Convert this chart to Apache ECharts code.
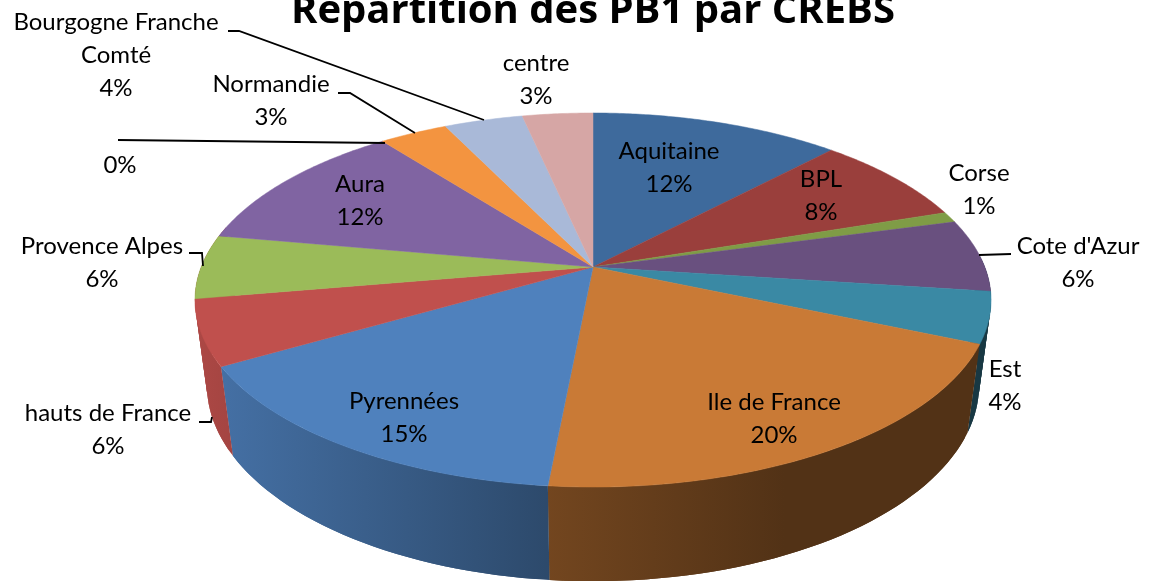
<!DOCTYPE html>
<html>
<head>
<meta charset="utf-8">
<title>Répartition des PB1 par CREBS</title>
<script src="https://cdn.jsdelivr.net/npm/echarts@6/dist/echarts.min.js"></script>
<style>
  html, body { margin: 0; padding: 0; background: #fff; }
  #main { width: 1149px; height: 581px; }
</style>
</head>
<body>
<div id="main"></div>
<script>
// data, clockwise from 12 o'clock
var categories = ['Aquitaine', 'BPL', 'Corse', "Cote d'Azur", 'Est', 'Ile de France', 'Pyrennées',
    'hauts de France', 'Provence Alpes', 'Aura', '', 'Normandie', 'Bourgogne Franche\nComté', 'centre'];
var values = [12.05, 7.85, 0.93, 6.3, 4.4, 20.05, 15.15, 5.65, 5.55, 11.7, 0, 3.3, 3.8, 3.4];

var colors = ['#3e6a9c', '#9a3f3c', '#7f9c46', '#69507f', '#3a89a4', '#c97a36', '#4f81bd',
    '#c0504d', '#9bbb59', '#8064a2', '#4bacc6', '#f39440', '#a9b9d8', '#d6a6a5'];

// centre of each label block
var labelX = [669, 821, 979, 1078, 1005, 774, 404, 108, 102, 360, 120, 271, 116, 536];
var labelY = [168, 196, 190, 263, 386, 419, 418, 430, 263, 201, 165, 101, 55, 80];

// leader lines, only the labels sitting outside the pie have one
var leaders = {
    3: [[979, 255], [1011, 254]],
    7: [[199, 422], [211, 422], [212, 417]],
    8: [[189, 253], [202, 253], [203, 266]],
    10: [[118, 140], [385, 143]],
    11: [[338, 93], [350, 93], [415, 133]],
    12: [[228, 31], [239, 31], [484, 120]]
};

// perspective of the tilted disc
var cx = 593, cy = 267, ax = 391.8, ay = 181.2, tilt = 0.1765;
var depth = 87, depthW = 0.03;

// walls drawn only for the front slices, the outer ones run on to the silhouette
var wallFrom = { 4: -0.2, 5: 0, 6: 0, 7: 0 };
var wallTo = { 4: 0, 5: 0, 6: 0, 7: 0.4 };

var total = values.reduce(function (a, b) { return a + b; }, 0);
var starts = [];
values.reduce(function (acc, v, i) { starts[i] = acc; return acc + v; }, 0);

function project(angle, level) {
    var u = Math.sin(angle), v = -Math.cos(angle);
    var w = 1 - tilt * v + depthW * level;
    return [cx + ax * u / w, cy + (ay * v + depth * level) / w];
}

function arcPoints(i, level, extra0, extra1, step) {
    var a0 = starts[i] / total * Math.PI * 2 + (extra0 || 0);
    var a1 = (starts[i] + values[i]) / total * Math.PI * 2 + (extra1 || 0);
    var n = Math.max(2, Math.ceil((a1 - a0) / (step || 0.01)));
    var pts = [];
    for (var k = 0; k <= n; k++) {
        pts.push(project(a0 + (a1 - a0) * k / n, level));
    }
    return pts;
}

function shade(hex, f) {
    var c = echarts.color.parse(hex);
    return 'rgb(' + Math.round(c[0] * f) + ',' + Math.round(c[1] * f) + ',' + Math.round(c[2] * f) + ')';
}

// side wall lighting, left to right over the whole pie
function sideFill(hex) {
    return new echarts.graphic.LinearGradient(195, 0, 991, 0, [
        { offset: 0, color: shade(hex, 0.9) },
        { offset: 0.04, color: shade(hex, 0.86) },
        { offset: 0.44, color: shade(hex, 0.57) },
        { offset: 0.74, color: shade(hex, 0.41) },
        { offset: 1, color: shade(hex, 0.41) }
    ], true);
}

// a wall is a strip of overlapping quads, so it also fills out to the tangent at the silhouette
function renderSide(params) {
    var i = params.dataIndex;
    if (wallFrom[i] === undefined) return null;
    var upper = arcPoints(i, 0, wallFrom[i], wallTo[i], 0.03);
    var lower = arcPoints(i, 1, wallFrom[i], wallTo[i], 0.03);
    var fill = sideFill(colors[i]);
    var children = [];
    for (var k = 0; k < upper.length - 1; k++) {
        var next = Math.min(k + 2, upper.length - 1);
        children.push({
            type: 'polygon',
            shape: { points: [upper[k], upper[k + 1], upper[next], lower[next], lower[k + 1], lower[k]] },
            style: { fill: fill }
        });
    }
    return { type: 'group', children: children };
}

function renderTop(params) {
    var i = params.dataIndex;
    if (!values[i]) return null;
    var pts = [[cx, cy]].concat(arcPoints(i, 0));
    return {
        type: 'polygon',
        shape: { points: pts },
        style: { fill: colors[i], stroke: colors[i], lineWidth: 0.5 }
    };
}

function renderLabel(params) {
    var i = params.dataIndex;
    var pct = Math.round(values[i] / total * 100) + '%';
    var children = [{
        type: 'text',
        style: {
            text: categories[i] ? categories[i] + '\n' + pct : pct,
            x: labelX[i],
            y: labelY[i],
            align: 'center',
            verticalAlign: 'middle',
            fill: '#000',
            fontFamily: 'Lato',
            fontSize: 24,
            lineHeight: 33
        }
    }];
    if (leaders[i]) {
        children.push({
            type: 'polyline',
            shape: { points: leaders[i] },
            style: { fill: 'none', stroke: '#000', lineWidth: 1.8 }
        });
    }
    return { type: 'group', children: children };
}

var chart = echarts.init(document.getElementById('main'));
chart.setOption({
    animation: false,
    title: {
        text: 'Répartition des PB1 par CREBS',
        left: 588,
        top: -13,
        textAlign: 'center',
        textStyle: { fontFamily: 'Open Sans', fontWeight: 'bold', fontSize: 40, color: '#000' }
    },
    series: [
        { type: 'custom', coordinateSystem: 'none', z: 1, silent: true, data: values, renderItem: renderSide },
        { type: 'custom', coordinateSystem: 'none', z: 2, silent: true, data: values, renderItem: renderTop },
        { type: 'custom', coordinateSystem: 'none', z: 3, silent: true, data: values, renderItem: renderLabel }
    ]
});
</script>
</body>
</html>
